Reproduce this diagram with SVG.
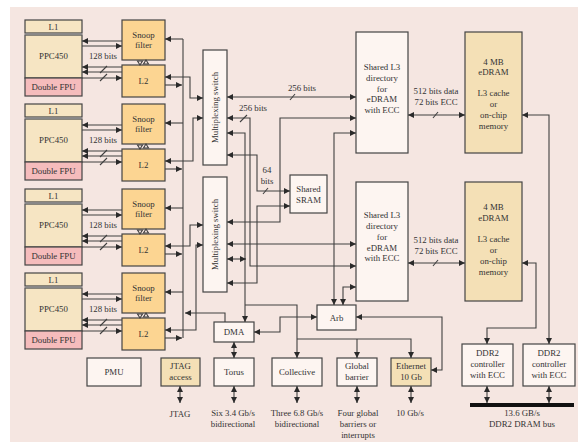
<svg xmlns="http://www.w3.org/2000/svg" width="578" height="442" viewBox="0 0 578 442">
<defs>
<marker id="a" viewBox="0 0 8 8" refX="8" refY="4" markerWidth="6" markerHeight="6" markerUnits="userSpaceOnUse" orient="auto-start-reverse"><path d="M0,0 L8,4 L0,8 z" fill="#2a2a2a"/></marker>
</defs>
<style>
text{font-family:"Liberation Serif","Times New Roman",serif;font-size:8.8px;fill:#333;text-anchor:middle}
.bx{stroke:#444;stroke-width:1.2}
.w{fill:#fdf5f1}
.t{fill:#f6e5c3}
.o{fill:#fcd592}
.p{fill:#f5bcbc}
.e{fill:#f4e0b6}
.c path,.c line{fill:none;stroke:#404040;stroke-width:1.1}
.ab{marker-start:url(#a);marker-end:url(#a)}
.ae{marker-end:url(#a)}
.as{marker-start:url(#a)}
.tri{fill:#2a2a2a}
</style>
<rect x="10" y="7" width="568" height="435" fill="#f5e6e1"/>

<g id="core1">
<rect class="bx t" x="25" y="20" width="57" height="13"/>
<rect class="bx t" x="25" y="35" width="57" height="43"/>
<line x1="25" y1="34.3" x2="82" y2="34.3" stroke="#888" stroke-width="2"/>
<rect class="bx p" x="25" y="78" width="57" height="18"/>
<text x="53.5" y="29.5">L1</text><text x="53.5" y="59">PPC450</text><text x="53.5" y="90">Double FPU</text>
</g>
<g id="snoop1"><rect class="bx o" x="122" y="20" width="43" height="40"/><text x="143.5" y="38">Snoop</text><text x="143.5" y="48">filter</text></g>
<g id="l2_1"><rect class="bx o" x="122" y="65" width="43" height="32"/><text x="143.5" y="84">L2</text></g>

<g id="core2">
<rect class="bx t" x="25" y="104" width="57" height="13"/>
<rect class="bx t" x="25" y="119" width="57" height="43"/>
<line x1="25" y1="118.3" x2="82" y2="118.3" stroke="#888" stroke-width="2"/>
<rect class="bx p" x="25" y="162" width="57" height="18"/>
<text x="53.5" y="113.5">L1</text><text x="53.5" y="143">PPC450</text><text x="53.5" y="174">Double FPU</text>
</g>
<g id="snoop2"><rect class="bx o" x="122" y="104" width="43" height="40"/><text x="143.5" y="122">Snoop</text><text x="143.5" y="132">filter</text></g>
<g id="l2_2"><rect class="bx o" x="122" y="149" width="43" height="32"/><text x="143.5" y="168">L2</text></g>

<g id="core3">
<rect class="bx t" x="25" y="189" width="57" height="13"/>
<rect class="bx t" x="25" y="204" width="57" height="43"/>
<line x1="25" y1="203.3" x2="82" y2="203.3" stroke="#888" stroke-width="2"/>
<rect class="bx p" x="25" y="247" width="57" height="18"/>
<text x="53.5" y="198.5">L1</text><text x="53.5" y="228">PPC450</text><text x="53.5" y="259">Double FPU</text>
</g>
<g id="snoop3"><rect class="bx o" x="122" y="189" width="43" height="40"/><text x="143.5" y="207">Snoop</text><text x="143.5" y="217">filter</text></g>
<g id="l2_3"><rect class="bx o" x="122" y="234" width="43" height="32"/><text x="143.5" y="253">L2</text></g>

<g id="core4">
<rect class="bx t" x="25" y="273" width="57" height="13"/>
<rect class="bx t" x="25" y="288" width="57" height="43"/>
<line x1="25" y1="287.3" x2="82" y2="287.3" stroke="#888" stroke-width="2"/>
<rect class="bx p" x="25" y="331" width="57" height="18"/>
<text x="53.5" y="282.5">L1</text><text x="53.5" y="312">PPC450</text><text x="53.5" y="343">Double FPU</text>
</g>
<g id="snoop4"><rect class="bx o" x="122" y="273" width="43" height="40"/><text x="143.5" y="291">Snoop</text><text x="143.5" y="301">filter</text></g>
<g id="l2_4"><rect class="bx o" x="122" y="318" width="43" height="32"/><text x="143.5" y="337">L2</text></g>

<g id="mux1"><rect class="bx w" x="203" y="50" width="24" height="115"/><text transform="translate(218,107.5) rotate(-90)">Multiplexing switch</text></g>
<g id="mux2"><rect class="bx w" x="203" y="177" width="24" height="115"/><text transform="translate(218,234.5) rotate(-90)">Multiplexing switch</text></g>

<g id="sram"><rect class="bx w" x="290" y="175" width="37" height="38"/><text x="308.5" y="192">Shared</text><text x="308.5" y="203">SRAM</text></g>

<g id="l3dir1"><rect class="bx w" x="356" y="32" width="52" height="121"/>
<text x="382" y="70">Shared L3</text><text x="382" y="81">directory</text><text x="382" y="92">for</text><text x="382" y="102">eDRAM</text><text x="382" y="113">with ECC</text></g>
<g id="l3dir2"><rect class="bx w" x="356" y="182" width="52" height="119"/>
<text x="382" y="218">Shared L3</text><text x="382" y="229">directory</text><text x="382" y="240">for</text><text x="382" y="251">eDRAM</text><text x="382" y="261">with ECC</text></g>

<g id="edram1"><rect class="bx e" x="465" y="32" width="57" height="121"/>
<text x="493.5" y="65">4 MB</text><text x="493.5" y="75">eDRAM</text><text x="493.5" y="96">L3 cache</text><text x="493.5" y="107">or</text><text x="493.5" y="118">on-chip</text><text x="493.5" y="129">memory</text></g>
<g id="edram2"><rect class="bx e" x="465" y="182" width="57" height="119"/>
<text x="493.5" y="210">4 MB</text><text x="493.5" y="221">eDRAM</text><text x="493.5" y="242">L3 cache</text><text x="493.5" y="253">or</text><text x="493.5" y="264">on-chip</text><text x="493.5" y="275">memory</text></g>

<g id="arb"><rect class="bx w" x="317" y="305" width="39" height="25"/><text x="336.5" y="320.5">Arb</text></g>
<g id="dma"><rect class="bx w" x="214" y="322" width="40" height="20"/><text x="234" y="335">DMA</text></g>
<g id="pmu"><rect class="bx w" x="87" y="358" width="54" height="28"/><text x="114" y="375">PMU</text></g>
<g id="jtag"><rect class="bx e" x="161" y="358" width="39" height="28"/><text x="180.5" y="369">JTAG</text><text x="180.5" y="380">access</text></g>
<g id="torus"><rect class="bx w" x="214" y="358" width="40" height="28"/><text x="234" y="375">Torus</text></g>
<g id="collective"><rect class="bx w" x="272" y="358" width="50" height="28"/><text x="297" y="375">Collective</text></g>
<g id="barrier"><rect class="bx w" x="337" y="358" width="40" height="28"/><text x="357" y="369">Global</text><text x="357" y="380">barrier</text></g>
<g id="ethernet"><rect class="bx e" x="391" y="358" width="40" height="28"/><text x="411" y="369">Ethernet</text><text x="411" y="380">10 Gb</text></g>
<g id="ddr1"><rect class="bx w" x="462" y="344" width="51" height="42"/><text x="487.5" y="356">DDR2</text><text x="487.5" y="367">controller</text><text x="487.5" y="378">with ECC</text></g>
<g id="ddr2"><rect class="bx w" x="523" y="344" width="52" height="42"/><text x="549" y="356">DDR2</text><text x="549" y="367">controller</text><text x="549" y="378">with ECC</text></g>

<g id="connectors" class="c">
<path class="as" d="M82,41 H122"/><path class="ae" d="M82,46 H122"/>
<path class="as" d="M82,67 H122"/><path class="as" d="M82,72 H122"/><path class="ae" d="M82,78 H122"/>
<line x1="100" y1="73" x2="107" y2="66"/><line x1="100" y1="81" x2="107" y2="74"/>
<path class="ae" d="M183,39 H165"/><path class="ae" d="M165,85 H182"/>
<path class="ab" d="M203,98 H190 V77 H165"/>
<path class="as" d="M82,125 H122"/><path class="ae" d="M82,130 H122"/>
<path class="as" d="M82,151 H122"/><path class="as" d="M82,156 H122"/><path class="ae" d="M82,162 H122"/>
<line x1="100" y1="157" x2="107" y2="150"/><line x1="100" y1="165" x2="107" y2="158"/>
<path class="ae" d="M183,123 H165"/><path class="ae" d="M165,169 H182"/>
<path class="ab" d="M203,118 H193 V161 H165"/>
<path class="as" d="M82,210 H122"/><path class="ae" d="M82,215 H122"/>
<path class="as" d="M82,236 H122"/><path class="as" d="M82,241 H122"/><path class="ae" d="M82,247 H122"/>
<line x1="100" y1="242" x2="107" y2="235"/><line x1="100" y1="250" x2="107" y2="243"/>
<path class="ae" d="M183,208 H165"/><path class="ae" d="M165,254 H182"/>
<path class="ab" d="M203,225 H190 V246 H165"/>
<path class="as" d="M82,294 H122"/><path class="ae" d="M82,299 H122"/>
<path class="as" d="M82,320 H122"/><path class="as" d="M82,325 H122"/><path class="ae" d="M82,331 H122"/>
<line x1="100" y1="326" x2="107" y2="319"/><line x1="100" y1="334" x2="107" y2="327"/>
<path class="ae" d="M183,292 H165"/><path class="ae" d="M165,338 H182"/>
<path class="ab" d="M203,245 H196 V330 H165"/>
<line x1="183" y1="39" x2="183" y2="338"/>
<path class="ab" d="M227,97 H356"/><line x1="290" y1="100" x2="295" y2="94"/>
<path class="ab" d="M227,118 H250 V266 H356"/><line x1="240" y1="122" x2="247" y2="115"/>
<path class="ab" d="M227,133 H245 V322"/>
<path class="ae" d="M245,305 H297 V358"/>
<path class="ab" d="M227,155 H257 V191 H290"/><line x1="263" y1="194" x2="268" y2="188"/>
<path class="ab" d="M356,118 H280 V222 H227"/>
<path class="ab" d="M356,133 H334 V305"/>
<path class="ab" d="M227,244 H356"/>
<path class="ab" d="M227,259 H246"/>
<path class="ab" d="M227,283 H257 V206 H290"/>
<path class="ab" d="M356,287 H343 V305"/>
<path class="ab" d="M317,317 H280 V332 H254"/>
<path class="ab" d="M356,317 H442 V370 H431"/>
<path class="ae" d="M297,339 H411 V358"/>
<path class="ae" d="M357,339 V358"/>
<path class="ae" d="M225,322 V313 H185"/>
<path class="ab" d="M234,342 V358"/>
<path class="ab" d="M180,386 V403"/>
<path class="ab" d="M234,386 V403"/>
<path class="ab" d="M297,386 V403"/>
<path class="ab" d="M357,386 V403"/>
<path class="ab" d="M411,386 V403"/>
<path class="ab" d="M487,386 V403"/>
<path class="ab" d="M549,386 V403"/>
<line x1="470" y1="405" x2="574" y2="405" style="stroke:#111;stroke-width:4"/>
<path class="ab" d="M408,115 H465"/><line x1="433" y1="118" x2="438" y2="112"/>
<path class="ab" d="M408,263 H465"/><line x1="433" y1="266" x2="438" y2="260"/>
<path class="ab" d="M522,115 H549 V344"/>
<path class="ab" d="M522,263 H536 V328 H487 V344"/>
<path class="tri" d="M137.5,61 L142.5,61 L140,65 z"/><path class="tri" d="M143.5,64 L148.5,64 L146,60 z"/>
<path class="tri" d="M137.5,145 L142.5,145 L140,149 z"/><path class="tri" d="M143.5,148 L148.5,148 L146,144 z"/>
<path class="tri" d="M137.5,230 L142.5,230 L140,234 z"/><path class="tri" d="M143.5,233 L148.5,233 L146,229 z"/>
<path class="tri" d="M137.5,314 L142.5,314 L140,318 z"/><path class="tri" d="M143.5,317 L148.5,317 L146,313 z"/>
</g>

<g id="labels">
<text x="103" y="59">128 bits</text><text x="103" y="143">128 bits</text><text x="103" y="228">128 bits</text><text x="103" y="312">128 bits</text>
<text x="302" y="91">256 bits</text>
<text x="253" y="111">256 bits</text>
<text x="267" y="173">64</text><text x="267" y="184">bits</text>
<text x="436" y="94">512 bits data</text><text x="436" y="105">72 bits ECC</text>
<text x="436" y="243">512 bits data</text><text x="436" y="254">72 bits ECC</text>
<text x="180" y="417">JTAG</text>
<text x="233" y="416">Six 3.4 Gb/s</text><text x="233" y="427">bidirectional</text>
<text x="297" y="416">Three 6.8 Gb/s</text><text x="297" y="427">bidirectional</text>
<text x="358" y="416">Four global</text><text x="358" y="427">barriers or</text><text x="358" y="438">interrupts</text>
<text x="410" y="416">10 Gb/s</text>
<text x="522" y="416">13.6 GB/s</text><text x="522" y="427">DDR2 DRAM bus</text>
</g>
</svg>
